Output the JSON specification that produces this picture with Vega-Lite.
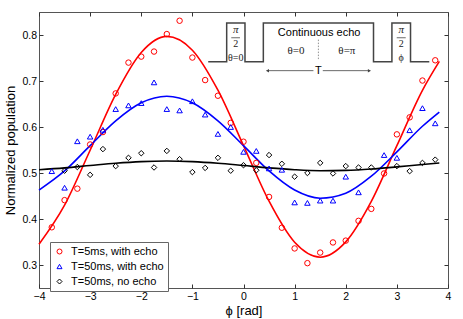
{
  "$schema": "https://vega.github.io/schema/vega-lite/v6.json",
  "width": 409,
  "height": 276,
  "autosize": {"type": "none"},
  "padding": {"left": 39, "top": 12, "right": 15, "bottom": 31},
  "background": "white",
  "config": {
    "view": {"stroke": "#555", "strokeWidth": 1},
    "axis": {
      "domain": false, "grid": false, "tickSize": -4, "tickColor": "#333", "tickWidth": 1,
      "labelFont": "Liberation Sans", "labelFontSize": 10.5, "labelColor": "#000",
      "titleFont": "Liberation Sans", "titleFontSize": 13, "titleFontWeight": "normal", "titleColor": "#000"
    },
    "legend": {
      "labelFont": "Liberation Sans", "labelFontSize": 11, "labelColor": "#000"
    }
  },
  "datasets": {
    "pts": [
      {"phi": -3.75, "pop": 0.382, "series": "T=5ms, with echo"},
      {"phi": -3.5, "pop": 0.441, "series": "T=5ms, with echo"},
      {"phi": -3.25, "pop": 0.466, "series": "T=5ms, with echo"},
      {"phi": -3.0, "pop": 0.562, "series": "T=5ms, with echo"},
      {"phi": -2.75, "pop": 0.589, "series": "T=5ms, with echo"},
      {"phi": -2.5, "pop": 0.673, "series": "T=5ms, with echo"},
      {"phi": -2.25, "pop": 0.740, "series": "T=5ms, with echo"},
      {"phi": -2.0, "pop": 0.753, "series": "T=5ms, with echo"},
      {"phi": -1.75, "pop": 0.764, "series": "T=5ms, with echo"},
      {"phi": -1.5, "pop": 0.802, "series": "T=5ms, with echo"},
      {"phi": -1.25, "pop": 0.831, "series": "T=5ms, with echo"},
      {"phi": -1.0, "pop": 0.751, "series": "T=5ms, with echo"},
      {"phi": -0.75, "pop": 0.702, "series": "T=5ms, with echo"},
      {"phi": -0.5, "pop": 0.668, "series": "T=5ms, with echo"},
      {"phi": -0.25, "pop": 0.609, "series": "T=5ms, with echo"},
      {"phi": 0.0, "pop": 0.568, "series": "T=5ms, with echo"},
      {"phi": 0.25, "pop": 0.522, "series": "T=5ms, with echo"},
      {"phi": 0.5, "pop": 0.448, "series": "T=5ms, with echo"},
      {"phi": 0.75, "pop": 0.381, "series": "T=5ms, with echo"},
      {"phi": 1.0, "pop": 0.336, "series": "T=5ms, with echo"},
      {"phi": 1.25, "pop": 0.304, "series": "T=5ms, with echo"},
      {"phi": 1.5, "pop": 0.327, "series": "T=5ms, with echo"},
      {"phi": 1.75, "pop": 0.349, "series": "T=5ms, with echo"},
      {"phi": 2.0, "pop": 0.353, "series": "T=5ms, with echo"},
      {"phi": 2.25, "pop": 0.396, "series": "T=5ms, with echo"},
      {"phi": 2.5, "pop": 0.422, "series": "T=5ms, with echo"},
      {"phi": 2.75, "pop": 0.499, "series": "T=5ms, with echo"},
      {"phi": 3.0, "pop": 0.584, "series": "T=5ms, with echo"},
      {"phi": 3.25, "pop": 0.621, "series": "T=5ms, with echo"},
      {"phi": 3.5, "pop": 0.701, "series": "T=5ms, with echo"},
      {"phi": 3.75, "pop": 0.745, "series": "T=5ms, with echo"},

      {"phi": -3.75, "pop": 0.504, "series": "T=50ms, with echo"},
      {"phi": -3.5, "pop": 0.468, "series": "T=50ms, with echo"},
      {"phi": -3.25, "pop": 0.569, "series": "T=50ms, with echo"},
      {"phi": -3.0, "pop": 0.579, "series": "T=50ms, with echo"},
      {"phi": -2.75, "pop": 0.594, "series": "T=50ms, with echo"},
      {"phi": -2.5, "pop": 0.639, "series": "T=50ms, with echo"},
      {"phi": -2.25, "pop": 0.647, "series": "T=50ms, with echo"},
      {"phi": -2.0, "pop": 0.652, "series": "T=50ms, with echo"},
      {"phi": -1.75, "pop": 0.697, "series": "T=50ms, with echo"},
      {"phi": -1.5, "pop": 0.639, "series": "T=50ms, with echo"},
      {"phi": -1.25, "pop": 0.636, "series": "T=50ms, with echo"},
      {"phi": -1.0, "pop": 0.656, "series": "T=50ms, with echo"},
      {"phi": -0.75, "pop": 0.627, "series": "T=50ms, with echo"},
      {"phi": -0.5, "pop": 0.585, "series": "T=50ms, with echo"},
      {"phi": -0.25, "pop": 0.600, "series": "T=50ms, with echo"},
      {"phi": 0.0, "pop": 0.546, "series": "T=50ms, with echo"},
      {"phi": 0.25, "pop": 0.548, "series": "T=50ms, with echo"},
      {"phi": 0.5, "pop": 0.510, "series": "T=50ms, with echo"},
      {"phi": 0.75, "pop": 0.507, "series": "T=50ms, with echo"},
      {"phi": 1.0, "pop": 0.436, "series": "T=50ms, with echo"},
      {"phi": 1.25, "pop": 0.435, "series": "T=50ms, with echo"},
      {"phi": 1.5, "pop": 0.440, "series": "T=50ms, with echo"},
      {"phi": 1.75, "pop": 0.440, "series": "T=50ms, with echo"},
      {"phi": 2.0, "pop": 0.492, "series": "T=50ms, with echo"},
      {"phi": 2.25, "pop": 0.458, "series": "T=50ms, with echo"},
      {"phi": 2.75, "pop": 0.539, "series": "T=50ms, with echo"},
      {"phi": 3.0, "pop": 0.533, "series": "T=50ms, with echo"},
      {"phi": 3.25, "pop": 0.593, "series": "T=50ms, with echo"},
      {"phi": 3.5, "pop": 0.641, "series": "T=50ms, with echo"},
      {"phi": 3.75, "pop": 0.608, "series": "T=50ms, with echo"},

      {"phi": -3.5, "pop": 0.505, "series": "T=50ms, no echo"},
      {"phi": -3.25, "pop": 0.513, "series": "T=50ms, no echo"},
      {"phi": -3.0, "pop": 0.496, "series": "T=50ms, no echo"},
      {"phi": -2.75, "pop": 0.552, "series": "T=50ms, no echo"},
      {"phi": -2.5, "pop": 0.515, "series": "T=50ms, no echo"},
      {"phi": -2.25, "pop": 0.533, "series": "T=50ms, no echo"},
      {"phi": -2.0, "pop": 0.543, "series": "T=50ms, no echo"},
      {"phi": -1.75, "pop": 0.512, "series": "T=50ms, no echo"},
      {"phi": -1.5, "pop": 0.548, "series": "T=50ms, no echo"},
      {"phi": -1.25, "pop": 0.530, "series": "T=50ms, no echo"},
      {"phi": -1.0, "pop": 0.502, "series": "T=50ms, no echo"},
      {"phi": -0.75, "pop": 0.511, "series": "T=50ms, no echo"},
      {"phi": -0.5, "pop": 0.533, "series": "T=50ms, no echo"},
      {"phi": -0.25, "pop": 0.505, "series": "T=50ms, no echo"},
      {"phi": 0.0, "pop": 0.517, "series": "T=50ms, no echo"},
      {"phi": 0.25, "pop": 0.506, "series": "T=50ms, no echo"},
      {"phi": 0.5, "pop": 0.539, "series": "T=50ms, no echo"},
      {"phi": 0.75, "pop": 0.520, "series": "T=50ms, no echo"},
      {"phi": 1.0, "pop": 0.492, "series": "T=50ms, no echo"},
      {"phi": 1.25, "pop": 0.500, "series": "T=50ms, no echo"},
      {"phi": 1.5, "pop": 0.522, "series": "T=50ms, no echo"},
      {"phi": 1.75, "pop": 0.499, "series": "T=50ms, no echo"},
      {"phi": 2.0, "pop": 0.515, "series": "T=50ms, no echo"},
      {"phi": 2.25, "pop": 0.512, "series": "T=50ms, no echo"},
      {"phi": 2.5, "pop": 0.512, "series": "T=50ms, no echo"},
      {"phi": 3.0, "pop": 0.515, "series": "T=50ms, no echo"},
      {"phi": 3.25, "pop": 0.504, "series": "T=50ms, no echo"},
      {"phi": 3.5, "pop": 0.522, "series": "T=50ms, no echo"},
      {"phi": 3.75, "pop": 0.529, "series": "T=50ms, no echo"}
    ],
    "fit": [
      {"phi": -4.0, "pop": 0.345, "series": "T=5ms, with echo"},
      {"phi": -3.5, "pop": 0.430, "series": "T=5ms, with echo"},
      {"phi": -3.0, "pop": 0.5495, "series": "T=5ms, with echo"},
      {"phi": -2.5, "pop": 0.671, "series": "T=5ms, with echo"},
      {"phi": -2.0, "pop": 0.762, "series": "T=5ms, with echo"},
      {"phi": -1.5, "pop": 0.797, "series": "T=5ms, with echo"},
      {"phi": -1.0, "pop": 0.767, "series": "T=5ms, with echo"},
      {"phi": -0.5, "pop": 0.680, "series": "T=5ms, with echo"},
      {"phi": 0.0, "pop": 0.5596, "series": "T=5ms, with echo"},
      {"phi": 0.5, "pop": 0.4386, "series": "T=5ms, with echo"},
      {"phi": 1.0, "pop": 0.3494, "series": "T=5ms, with echo"},
      {"phi": 1.5, "pop": 0.317, "series": "T=5ms, with echo"},
      {"phi": 2.0, "pop": 0.3503, "series": "T=5ms, with echo"},
      {"phi": 2.5, "pop": 0.4384, "series": "T=5ms, with echo"},
      {"phi": 3.0, "pop": 0.5594, "series": "T=5ms, with echo"},
      {"phi": 3.5, "pop": 0.6798, "series": "T=5ms, with echo"},
      {"phi": 3.83, "pop": 0.7427, "series": "T=5ms, with echo"},

      {"phi": -4.0, "pop": 0.4629, "series": "T=50ms, with echo"},
      {"phi": -3.5, "pop": 0.5044, "series": "T=50ms, with echo"},
      {"phi": -3.0, "pop": 0.5594, "series": "T=50ms, with echo"},
      {"phi": -2.5, "pop": 0.6134, "series": "T=50ms, with echo"},
      {"phi": -2.0, "pop": 0.6527, "series": "T=50ms, with echo"},
      {"phi": -1.5, "pop": 0.667, "series": "T=50ms, with echo"},
      {"phi": -1.0, "pop": 0.6527, "series": "T=50ms, with echo"},
      {"phi": -0.5, "pop": 0.6134, "series": "T=50ms, with echo"},
      {"phi": 0.0, "pop": 0.5594, "series": "T=50ms, with echo"},
      {"phi": 0.5, "pop": 0.5044, "series": "T=50ms, with echo"},
      {"phi": 1.0, "pop": 0.4629, "series": "T=50ms, with echo"},
      {"phi": 1.5, "pop": 0.4452, "series": "T=50ms, with echo"},
      {"phi": 2.0, "pop": 0.456, "series": "T=50ms, with echo"},
      {"phi": 2.5, "pop": 0.493, "series": "T=50ms, with echo"},
      {"phi": 3.0, "pop": 0.5459, "series": "T=50ms, with echo"},
      {"phi": 3.5, "pop": 0.6017, "series": "T=50ms, with echo"},
      {"phi": 3.83, "pop": 0.6326, "series": "T=50ms, with echo"},

      {"phi": -4.0, "pop": 0.5071, "series": "T=50ms, no echo"},
      {"phi": -3.5, "pop": 0.5111, "series": "T=50ms, no echo"},
      {"phi": -3.0, "pop": 0.5162, "series": "T=50ms, no echo"},
      {"phi": -2.5, "pop": 0.5212, "series": "T=50ms, no echo"},
      {"phi": -2.0, "pop": 0.5247, "series": "T=50ms, no echo"},
      {"phi": -1.5, "pop": 0.526, "series": "T=50ms, no echo"},
      {"phi": -1.0, "pop": 0.5247, "series": "T=50ms, no echo"},
      {"phi": -0.5, "pop": 0.5212, "series": "T=50ms, no echo"},
      {"phi": 0.0, "pop": 0.5162, "series": "T=50ms, no echo"},
      {"phi": 0.5, "pop": 0.5111, "series": "T=50ms, no echo"},
      {"phi": 1.0, "pop": 0.5071, "series": "T=50ms, no echo"},
      {"phi": 1.5, "pop": 0.505, "series": "T=50ms, no echo"},
      {"phi": 2.0, "pop": 0.5057, "series": "T=50ms, no echo"},
      {"phi": 2.5, "pop": 0.5086, "series": "T=50ms, no echo"},
      {"phi": 3.0, "pop": 0.5133, "series": "T=50ms, no echo"},
      {"phi": 3.5, "pop": 0.5185, "series": "T=50ms, no echo"},
      {"phi": 3.83, "pop": 0.5216, "series": "T=50ms, no echo"}
    ],
    "pulse": [
      {"i": 1, "phi": -0.69, "pop": 0.7416},
      {"i": 2, "phi": -0.329, "pop": 0.7416},
      {"i": 3, "phi": -0.329, "pop": 0.826},
      {"i": 4, "phi": 0.029, "pop": 0.826},
      {"i": 5, "phi": 0.029, "pop": 0.7416},
      {"i": 6, "phi": 0.388, "pop": 0.7416},
      {"i": 7, "phi": 0.388, "pop": 0.826},
      {"i": 8, "phi": 2.543, "pop": 0.826},
      {"i": 9, "phi": 2.543, "pop": 0.7416},
      {"i": 10, "phi": 2.903, "pop": 0.7416},
      {"i": 11, "phi": 2.903, "pop": 0.826},
      {"i": 12, "phi": 3.267, "pop": 0.826},
      {"i": 13, "phi": 3.267, "pop": 0.7416},
      {"i": 14, "phi": 3.634, "pop": 0.7416}
    ],
    "arrow": [
      {"seg": "a", "phi": 0.454, "pop": 0.7225},
      {"seg": "a", "phi": 1.368, "pop": 0.7225},
      {"seg": "b", "phi": 1.551, "pop": 0.7225},
      {"seg": "b", "phi": 2.478, "pop": 0.7225}
    ],
    "heads": [
      {"dir": "left", "phi": 0.47, "pop": 0.7225},
      {"dir": "right", "phi": 2.462, "pop": 0.7225}
    ],
    "bars": [
      {"phi": -0.239, "phi2": -0.069, "pop": 0.794},
      {"phi": 2.997, "phi2": 3.173, "pop": 0.794}
    ],
    "dash": [
      {"phi": 1.465, "pop": 0.790, "pop2": 0.747}
    ],
    "labels": [
      {"kind": "pi", "label": "π", "phi": -0.153, "pop": 0.810},
      {"kind": "pi", "label": "π", "phi": 3.085, "pop": 0.810},
      {"kind": "small", "label": "2", "phi": -0.153, "pop": 0.781},
      {"kind": "small", "label": "2", "phi": 3.085, "pop": 0.781},
      {"kind": "small", "label": "θ=0", "phi": -0.153, "pop": 0.7506},
      {"kind": "small", "label": "ϕ", "phi": 3.085, "pop": 0.7506},
      {"kind": "mid", "label": "θ=0", "phi": 1.028, "pop": 0.765},
      {"kind": "mid", "label": "θ=π", "phi": 2.022, "pop": 0.765},
      {"kind": "sans", "label": "Continuous echo", "phi": 1.479, "pop": 0.8048},
      {"kind": "sans", "label": "T", "phi": 1.465, "pop": 0.7225}
    ]
  },
  "resolve": {"axis": {"x": "independent", "y": "independent"}},
  "layer": [
    {
      "data": {"name": "fit"},
      "transform": [{"filter": "datum.series === 'T=5ms, with echo'"}],
      "mark": {"type": "line", "strokeWidth": 1.6, "interpolate": "monotone", "color": "#ff0000"},
      "encoding": {
        "x": {"field": "phi", "type": "quantitative", "scale": {"domain": [-4, 4], "nice": false, "zero": false},
              "axis": {"orient": "bottom", "values": [-4, -3, -2, -1, 0, 1, 2, 3, 4], "format": "d", "labelFlush": false, "labelPadding": 7, "title": "ϕ [rad]", "titlePadding": 3}},
        "y": {"field": "pop", "type": "quantitative", "scale": {"domain": [0.25, 0.85], "nice": false, "zero": false},
              "axis": {"orient": "left", "values": [0.3, 0.4, 0.5, 0.6, 0.7, 0.8], "format": ".1f", "labelFlush": false, "labelPadding": 6.5, "title": "Normalized population", "titlePadding": 4}}
      }
    },
    {
      "data": {"name": "fit"},
      "transform": [{"filter": "datum.series === 'T=50ms, with echo'"}],
      "mark": {"type": "line", "strokeWidth": 1.6, "interpolate": "monotone", "color": "#0000ff"},
      "encoding": {
        "x": {"field": "phi", "type": "quantitative", "scale": {"domain": [-4, 4], "nice": false, "zero": false}, "axis": null},
        "y": {"field": "pop", "type": "quantitative", "scale": {"domain": [0.25, 0.85], "nice": false, "zero": false}, "axis": null}
      }
    },
    {
      "data": {"name": "fit"},
      "transform": [{"filter": "datum.series === 'T=50ms, no echo'"}],
      "mark": {"type": "line", "strokeWidth": 1.6, "interpolate": "monotone", "color": "#000000"},
      "encoding": {
        "x": {"field": "phi", "type": "quantitative", "scale": {"domain": [-4, 4], "nice": false, "zero": false}, "axis": null},
        "y": {"field": "pop", "type": "quantitative", "scale": {"domain": [0.25, 0.85], "nice": false, "zero": false}, "axis": null}
      }
    },
    {
      "data": {"name": "pts"},
      "mark": {"type": "point", "filled": false, "strokeWidth": 1, "size": 30, "opacity": 1},
      "encoding": {
        "x": {"field": "phi", "type": "quantitative", "scale": {"domain": [-4, 4], "nice": false, "zero": false}, "axis": null},
        "y": {"field": "pop", "type": "quantitative", "scale": {"domain": [0.25, 0.85], "nice": false, "zero": false}, "axis": null},
        "color": {"field": "series", "type": "nominal",
                  "scale": {"domain": ["T=5ms, with echo", "T=50ms, with echo", "T=50ms, no echo"], "range": ["#ff0000", "#0000ff", "#000000"]},
                  "legend": {"title": null, "orient": "none", "legendX": 11, "legendY": 230, "strokeColor": "#666", "fillColor": "white", "padding": 4, "rowPadding": 3, "symbolSize": 25, "symbolStrokeWidth": 1, "labelOffset": 6}},
        "shape": {"field": "series", "type": "nominal",
                  "scale": {"domain": ["T=5ms, with echo", "T=50ms, with echo", "T=50ms, no echo"], "range": ["circle", "triangle-up", "diamond"]},
                  "legend": {"title": null, "orient": "none", "legendX": 11, "legendY": 230, "strokeColor": "#666", "fillColor": "white", "padding": 4, "rowPadding": 3, "symbolSize": 25, "symbolStrokeWidth": 1, "labelOffset": 6}}
      }
    },
    {
      "data": {"name": "pulse"},
      "mark": {"type": "line", "color": "#444", "strokeWidth": 1.5},
      "encoding": {
        "x": {"field": "phi", "type": "quantitative", "scale": {"domain": [-4, 4], "nice": false, "zero": false}, "axis": null},
        "y": {"field": "pop", "type": "quantitative", "scale": {"domain": [0.25, 0.85], "nice": false, "zero": false}, "axis": null},
        "order": {"field": "i", "type": "quantitative"}
      }
    },
    {
      "data": {"name": "arrow"},
      "mark": {"type": "line", "color": "#444", "strokeWidth": 0.8},
      "encoding": {
        "x": {"field": "phi", "type": "quantitative", "scale": {"domain": [-4, 4], "nice": false, "zero": false}, "axis": null},
        "y": {"field": "pop", "type": "quantitative", "scale": {"domain": [0.25, 0.85], "nice": false, "zero": false}, "axis": null},
        "detail": {"field": "seg"}
      }
    },
    {
      "data": {"name": "heads"},
      "transform": [{"filter": "datum.dir === 'left'"}],
      "mark": {"type": "point", "shape": "triangle-left", "filled": true, "color": "#444", "size": 12, "opacity": 1},
      "encoding": {
        "x": {"field": "phi", "type": "quantitative", "scale": {"domain": [-4, 4], "nice": false, "zero": false}, "axis": null},
        "y": {"field": "pop", "type": "quantitative", "scale": {"domain": [0.25, 0.85], "nice": false, "zero": false}, "axis": null}
      }
    },
    {
      "data": {"name": "heads"},
      "transform": [{"filter": "datum.dir === 'right'"}],
      "mark": {"type": "point", "shape": "triangle-right", "filled": true, "color": "#444", "size": 12, "opacity": 1},
      "encoding": {
        "x": {"field": "phi", "type": "quantitative", "scale": {"domain": [-4, 4], "nice": false, "zero": false}, "axis": null},
        "y": {"field": "pop", "type": "quantitative", "scale": {"domain": [0.25, 0.85], "nice": false, "zero": false}, "axis": null}
      }
    },
    {
      "data": {"name": "bars"},
      "mark": {"type": "rule", "color": "#444", "strokeWidth": 0.8},
      "encoding": {
        "x": {"field": "phi", "type": "quantitative", "scale": {"domain": [-4, 4], "nice": false, "zero": false}, "axis": null},
        "x2": {"field": "phi2"},
        "y": {"field": "pop", "type": "quantitative", "scale": {"domain": [0.25, 0.85], "nice": false, "zero": false}, "axis": null}
      }
    },
    {
      "data": {"name": "dash"},
      "mark": {"type": "rule", "color": "#777", "strokeWidth": 0.8, "strokeDash": [1.5, 1.5]},
      "encoding": {
        "x": {"field": "phi", "type": "quantitative", "scale": {"domain": [-4, 4], "nice": false, "zero": false}, "axis": null},
        "y": {"field": "pop", "type": "quantitative", "scale": {"domain": [0.25, 0.85], "nice": false, "zero": false}, "axis": null},
        "y2": {"field": "pop2"}
      }
    },
    {
      "data": {"name": "labels"},
      "transform": [{"filter": "datum.kind === 'pi'"}],
      "mark": {"type": "text", "font": "Liberation Serif", "fontStyle": "italic", "fontSize": 11, "color": "#222", "baseline": "middle", "align": "center"},
      "encoding": {
        "x": {"field": "phi", "type": "quantitative", "scale": {"domain": [-4, 4], "nice": false, "zero": false}, "axis": null},
        "y": {"field": "pop", "type": "quantitative", "scale": {"domain": [0.25, 0.85], "nice": false, "zero": false}, "axis": null},
        "text": {"field": "label"}
      }
    },
    {
      "data": {"name": "labels"},
      "transform": [{"filter": "datum.kind === 'small'"}],
      "mark": {"type": "text", "font": "Liberation Serif", "fontSize": 10, "color": "#222", "baseline": "middle", "align": "center"},
      "encoding": {
        "x": {"field": "phi", "type": "quantitative", "scale": {"domain": [-4, 4], "nice": false, "zero": false}, "axis": null},
        "y": {"field": "pop", "type": "quantitative", "scale": {"domain": [0.25, 0.85], "nice": false, "zero": false}, "axis": null},
        "text": {"field": "label"}
      }
    },
    {
      "data": {"name": "labels"},
      "transform": [{"filter": "datum.kind === 'mid'"}],
      "mark": {"type": "text", "font": "Liberation Serif", "fontSize": 11, "color": "#222", "baseline": "middle", "align": "center"},
      "encoding": {
        "x": {"field": "phi", "type": "quantitative", "scale": {"domain": [-4, 4], "nice": false, "zero": false}, "axis": null},
        "y": {"field": "pop", "type": "quantitative", "scale": {"domain": [0.25, 0.85], "nice": false, "zero": false}, "axis": null},
        "text": {"field": "label"}
      }
    },
    {
      "data": {"name": "labels"},
      "transform": [{"filter": "datum.kind === 'sans'"}],
      "mark": {"type": "text", "font": "Liberation Sans", "fontSize": 11, "color": "#000", "baseline": "middle", "align": "center"},
      "encoding": {
        "x": {"field": "phi", "type": "quantitative", "scale": {"domain": [-4, 4], "nice": false, "zero": false}, "axis": null},
        "y": {"field": "pop", "type": "quantitative", "scale": {"domain": [0.25, 0.85], "nice": false, "zero": false}, "axis": null},
        "text": {"field": "label"}
      }
    },
    {
      "data": {"values": [{"phi": 0, "pop": 0.5}]},
      "mark": {"type": "point", "opacity": 0},
      "encoding": {
        "x": {"field": "phi", "type": "quantitative", "scale": {"domain": [-4, 4], "nice": false, "zero": false},
              "axis": {"orient": "top", "values": [-4, -3, -2, -1, 0, 1, 2, 3, 4], "labels": false, "title": null}},
        "y": {"field": "pop", "type": "quantitative", "scale": {"domain": [0.25, 0.85], "nice": false, "zero": false},
              "axis": {"orient": "right", "values": [0.3, 0.4, 0.5, 0.6, 0.7, 0.8], "labels": false, "title": null}}
      }
    }
  ]
}
